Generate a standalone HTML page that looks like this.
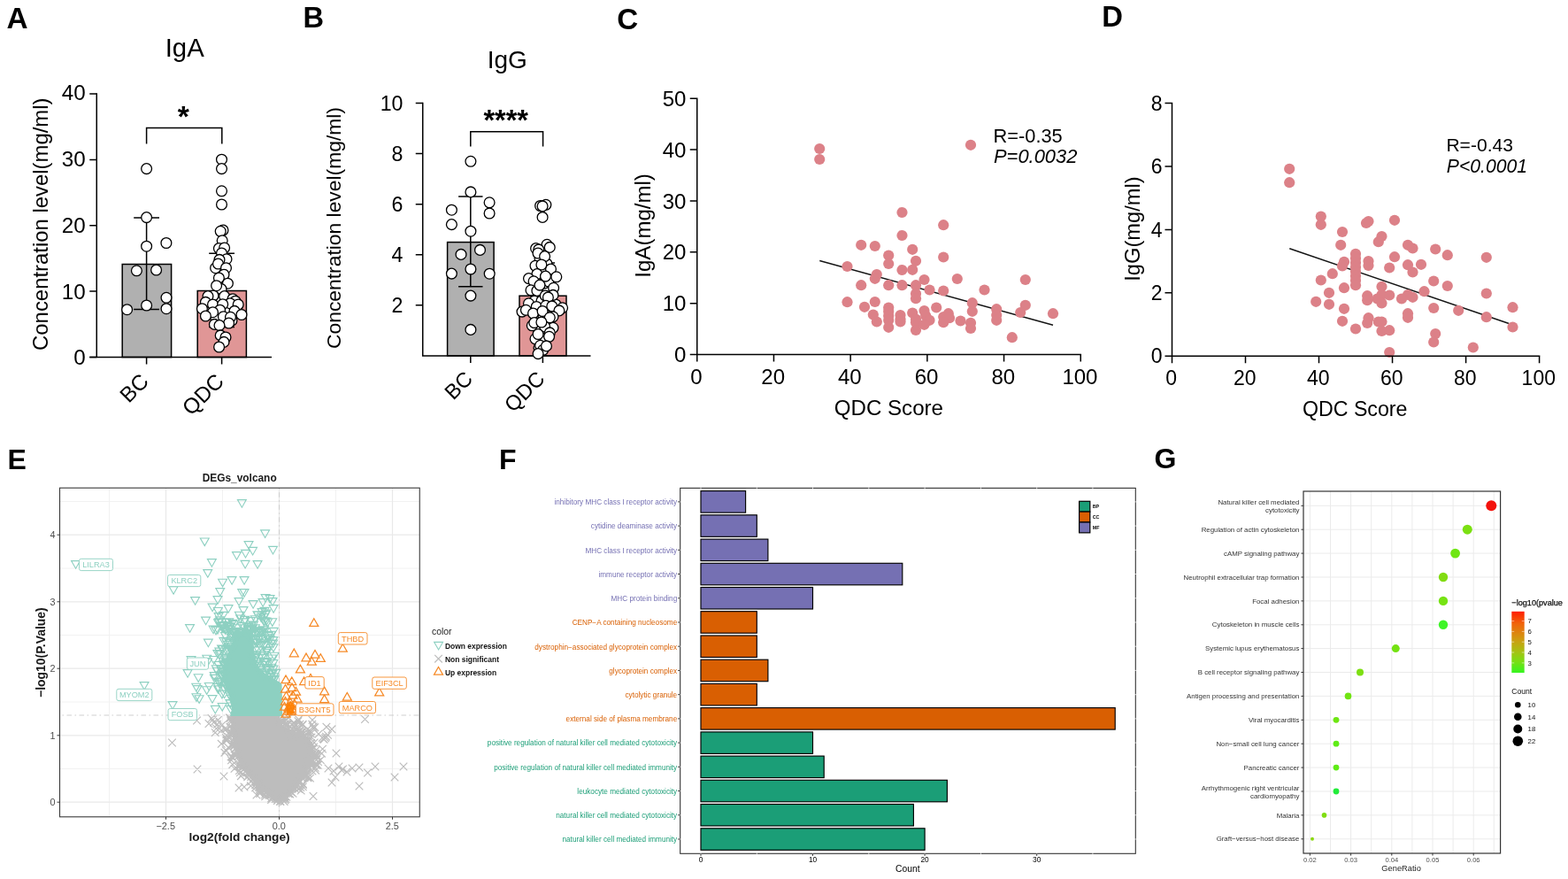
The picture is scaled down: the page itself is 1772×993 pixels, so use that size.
<!DOCTYPE html>
<html lang="en">
<head>
<meta charset="utf-8">
<title>Figure: IgA / IgG levels, QDC score correlation, DEG volcano, GO and KEGG enrichment</title>
<style>
html,body{margin:0;padding:0;background:#fff;}
body{width:1772px;height:993px;overflow:hidden;font-family:"Liberation Sans",Arial,Helvetica,sans-serif;}
svg{display:block;}
svg text{font-family:"Liberation Sans",Arial,Helvetica,sans-serif;}
</style>
</head>
<body>
<svg width="1772" height="993" viewBox="0 0 1772 993">
<rect width="1772" height="993" fill="#fff"/>
<text x="7.5" y="32.1" font-size="33.3" font-weight="bold">A</text>
<text x="342.6" y="30.6" font-size="32.6" font-weight="bold">B</text>
<text x="697.2" y="33" font-size="33.2" font-weight="bold">C</text>
<text x="1245.3" y="30.4" font-size="32.8" font-weight="bold">D</text>
<text x="208.7" y="63.6" font-size="29.3" text-anchor="middle">IgA</text>
<text x="53.6" y="253.2" font-size="23.9" text-anchor="middle" transform="rotate(-90 53.6 253.2)">Concentration level(mg/ml)</text>
<rect x="138.2" y="298.5" width="55.4" height="105.0" fill="#b0b0b0" stroke="#000" stroke-width="1.5"/>
<rect x="223.2" y="328.5" width="55.2" height="75.0" fill="#e09696" stroke="#000" stroke-width="1.5"/>
<path d="M109.25 105.25V403.5M101.25 403.5H307" stroke="#000" stroke-width="1.5" fill="none"/>
<text x="96.65" y="112.9" font-size="24.2" text-anchor="end">40</text>
<text x="96.65" y="187.8" font-size="24.2" text-anchor="end">30</text>
<text x="96.65" y="262.7" font-size="24.2" text-anchor="end">20</text>
<text x="96.65" y="337.5" font-size="24.2" text-anchor="end">10</text>
<text x="96.65" y="412.4" font-size="24.2" text-anchor="end">0</text>
<path d="M101.25 106H109.25M101.25 180.4H109.25M101.25 254.8H109.25M101.25 329.1H109.25M101.25 403.5H109.25M165.6 403.5V411.5M250.6 403.5V411.5" stroke="#000" stroke-width="1.5" fill="none"/>
<path d="M165.6 246V349.6M151.2 246H180.0M151.2 349.6H180.0M250.6 286.25V369.6M236.2 286.25H265.0M236.2 369.6H265.0" stroke="#000" stroke-width="1.5" fill="none"/>
<path d="M165.6 162.5V144.5H250.8V162.5" stroke="#000" stroke-width="1.5" fill="none"/>
<text x="207.2" y="143" font-size="33.6" text-anchor="middle" font-weight="bold">*</text>
<g fill="#fff" stroke="#000" stroke-width="1.3">
<circle cx="165.6" cy="190.6" r="5.9"/>
<circle cx="165.6" cy="245.6" r="5.9"/>
<circle cx="165.6" cy="278.2" r="5.9"/>
<circle cx="187.9" cy="274.5" r="5.9"/>
<circle cx="154.4" cy="305.8" r="5.9"/>
<circle cx="176.6" cy="305" r="5.9"/>
<circle cx="188" cy="336.3" r="5.9"/>
<circle cx="165.6" cy="345" r="5.9"/>
<circle cx="143.6" cy="349.7" r="5.9"/>
<circle cx="188" cy="348.7" r="5.9"/>
<circle cx="246" cy="338" r="5.9"/>
<circle cx="258" cy="338" r="5.9"/>
<circle cx="238" cy="347" r="5.9"/>
<circle cx="256" cy="347" r="5.9"/>
<circle cx="245" cy="356" r="5.9"/>
<circle cx="263" cy="346" r="5.9"/>
<circle cx="236" cy="352" r="5.9"/>
<circle cx="268" cy="350" r="5.9"/>
<circle cx="250" cy="362" r="5.9"/>
<circle cx="244" cy="360" r="5.9"/>
<circle cx="256" cy="353" r="5.9"/>
<circle cx="262" cy="362" r="5.9"/>
<circle cx="254" cy="341" r="5.9"/>
<circle cx="247" cy="330" r="5.9"/>
<circle cx="252" cy="318" r="5.9"/>
<circle cx="249" cy="306" r="5.9"/>
<circle cx="251" cy="297" r="5.9"/>
<circle cx="250.5" cy="180.2" r="5.9"/>
<circle cx="250.5" cy="190.6" r="5.9"/>
<circle cx="250.5" cy="215.8" r="5.9"/>
<circle cx="250.5" cy="231" r="5.9"/>
<circle cx="252" cy="260" r="5.9"/>
<circle cx="249.2" cy="261.3" r="5.9"/>
<circle cx="251.2" cy="271.8" r="5.9"/>
<circle cx="247.4" cy="280.6" r="5.9"/>
<circle cx="253.6" cy="280" r="5.9"/>
<circle cx="250.5" cy="286" r="5.9"/>
<circle cx="256" cy="292.7" r="5.9"/>
<circle cx="248" cy="293.4" r="5.9"/>
<circle cx="243.6" cy="302.7" r="5.9"/>
<circle cx="246.5" cy="298" r="5.9"/>
<circle cx="255.5" cy="302.7" r="5.9"/>
<circle cx="253" cy="310.2" r="5.9"/>
<circle cx="247.4" cy="314" r="5.9"/>
<circle cx="257.4" cy="320.2" r="5.9"/>
<circle cx="250" cy="326.5" r="5.9"/>
<circle cx="244.6" cy="322.7" r="5.9"/>
<circle cx="241" cy="334" r="5.9"/>
<circle cx="253.6" cy="334.6" r="5.9"/>
<circle cx="235" cy="334.6" r="5.9"/>
<circle cx="263" cy="337.7" r="5.9"/>
<circle cx="232.4" cy="341.4" r="5.9"/>
<circle cx="266" cy="340.2" r="5.9"/>
<circle cx="260" cy="342.7" r="5.9"/>
<circle cx="240.5" cy="344" r="5.9"/>
<circle cx="251.7" cy="343.7" r="5.9"/>
<circle cx="269.2" cy="344" r="5.9"/>
<circle cx="228.4" cy="348.7" r="5.9"/>
<circle cx="248.6" cy="350.2" r="5.9"/>
<circle cx="265" cy="351.4" r="5.9"/>
<circle cx="240.5" cy="352.7" r="5.9"/>
<circle cx="232.4" cy="357" r="5.9"/>
<circle cx="252.4" cy="357.7" r="5.9"/>
<circle cx="273" cy="355.5" r="5.9"/>
<circle cx="260.5" cy="358.3" r="5.9"/>
<circle cx="258.6" cy="365" r="5.9"/>
<circle cx="242.4" cy="366.4" r="5.9"/>
<circle cx="248" cy="367.6" r="5.9"/>
<circle cx="249.2" cy="378.9" r="5.9"/>
<circle cx="255" cy="381" r="5.9"/>
<circle cx="253" cy="386.4" r="5.9"/>
<circle cx="247.6" cy="392" r="5.9"/>
</g>
<text x="169.3" y="432.3" font-size="24.3" text-anchor="end" transform="rotate(-45 169.3 432.3)">BC</text>
<text x="254.3" y="432.3" font-size="24.3" text-anchor="end" transform="rotate(-45 254.3 432.3)">QDC</text>
<text x="573.2" y="77" font-size="28" text-anchor="middle">IgG</text>
<text x="385.1" y="257.5" font-size="22.85" text-anchor="middle" transform="rotate(-90 385.1 257.5)">Concentration level(mg/ml)</text>
<rect x="505.6" y="273.6" width="52.5" height="128.3" fill="#b0b0b0" stroke="#000" stroke-width="1.5"/>
<rect x="587" y="334.2" width="53" height="67.7" fill="#e09696" stroke="#000" stroke-width="1.5"/>
<path d="M477.75 115.75V401.9M476.95 401.9H667.5" stroke="#000" stroke-width="1.5" fill="none"/>
<text x="455.45" y="124.7" font-size="23.2" text-anchor="end">10</text>
<text x="455.45" y="181.8" font-size="23.2" text-anchor="end">8</text>
<text x="455.45" y="238.9" font-size="23.2" text-anchor="end">6</text>
<text x="455.45" y="295.9" font-size="23.2" text-anchor="end">4</text>
<text x="455.45" y="353.0" font-size="23.2" text-anchor="end">2</text>
<path d="M469.75 116.5H477.75M469.75 173.6H477.75M469.75 230.7H477.75M469.75 287.7H477.75M469.75 344.8H477.75M531.8 401.9V409.9M613.4 401.9V409.9" stroke="#000" stroke-width="1.5" fill="none"/>
<path d="M531.8 221.9V323.7M518.1 221.9H545.5M518.1 323.7H545.5M613.4 296.9V371.5M599.7 296.9H627.1M599.7 371.5H627.1" stroke="#000" stroke-width="1.5" fill="none"/>
<path d="M531.8 165.6V148.8H613.6V165.6" stroke="#000" stroke-width="1.5" fill="none"/>
<text x="571.7" y="146.5" font-size="32.5" text-anchor="middle" font-weight="bold">****</text>
<g fill="#fff" stroke="#000" stroke-width="1.3">
<circle cx="531.9" cy="182.3" r="5.9"/>
<circle cx="531.9" cy="216.9" r="5.9"/>
<circle cx="553.1" cy="228.8" r="5.9"/>
<circle cx="553.1" cy="241" r="5.9"/>
<circle cx="510.4" cy="237.2" r="5.9"/>
<circle cx="510.4" cy="253.6" r="5.9"/>
<circle cx="531.9" cy="261.2" r="5.9"/>
<circle cx="542.5" cy="282.4" r="5.9"/>
<circle cx="521" cy="287.4" r="5.9"/>
<circle cx="531.9" cy="304" r="5.9"/>
<circle cx="510.4" cy="309.1" r="5.9"/>
<circle cx="553.2" cy="309.2" r="5.9"/>
<circle cx="531.9" cy="334.1" r="5.9"/>
<circle cx="531.9" cy="372.4" r="5.9"/>
<circle cx="604" cy="340" r="5.9"/>
<circle cx="612" cy="340" r="5.9"/>
<circle cx="620" cy="342" r="5.9"/>
<circle cx="628" cy="344" r="5.9"/>
<circle cx="598" cy="348" r="5.9"/>
<circle cx="610" cy="349" r="5.9"/>
<circle cx="618" cy="352" r="5.9"/>
<circle cx="626" cy="352" r="5.9"/>
<circle cx="606" cy="358" r="5.9"/>
<circle cx="614" cy="358" r="5.9"/>
<circle cx="620" cy="364" r="5.9"/>
<circle cx="608" cy="370" r="5.9"/>
<circle cx="616" cy="374" r="5.9"/>
<circle cx="612" cy="382" r="5.9"/>
<circle cx="607" cy="322" r="5.9"/>
<circle cx="615" cy="320" r="5.9"/>
<circle cx="620" cy="318" r="5.9"/>
<circle cx="612" cy="306" r="5.9"/>
<circle cx="618" cy="298" r="5.9"/>
<circle cx="610" cy="292" r="5.9"/>
<circle cx="614" cy="386" r="5.9"/>
<circle cx="609" cy="393" r="5.9"/>
<circle cx="610.6" cy="232.5" r="5.9"/>
<circle cx="616.9" cy="231.3" r="5.9"/>
<circle cx="613.1" cy="232.9" r="5.9"/>
<circle cx="613.1" cy="245.4" r="5.9"/>
<circle cx="605.6" cy="280.6" r="5.9"/>
<circle cx="618.1" cy="276.3" r="5.9"/>
<circle cx="608.75" cy="281.9" r="5.9"/>
<circle cx="621.25" cy="279.4" r="5.9"/>
<circle cx="608" cy="286" r="5.9"/>
<circle cx="615.6" cy="289.6" r="5.9"/>
<circle cx="605" cy="300.3" r="5.9"/>
<circle cx="622.5" cy="304" r="5.9"/>
<circle cx="611.9" cy="299" r="5.9"/>
<circle cx="606.9" cy="309.6" r="5.9"/>
<circle cx="597.5" cy="314.6" r="5.9"/>
<circle cx="603.1" cy="317.8" r="5.9"/>
<circle cx="616.5" cy="312.1" r="5.9"/>
<circle cx="628.8" cy="312.8" r="5.9"/>
<circle cx="625.6" cy="325.3" r="5.9"/>
<circle cx="600" cy="327.8" r="5.9"/>
<circle cx="606.9" cy="328.4" r="5.9"/>
<circle cx="610" cy="322.1" r="5.9"/>
<circle cx="625" cy="333.4" r="5.9"/>
<circle cx="616.3" cy="334" r="5.9"/>
<circle cx="619.4" cy="335.9" r="5.9"/>
<circle cx="597.5" cy="342.8" r="5.9"/>
<circle cx="606.3" cy="346.5" r="5.9"/>
<circle cx="616.9" cy="345.3" r="5.9"/>
<circle cx="623.8" cy="345.9" r="5.9"/>
<circle cx="635.6" cy="347.8" r="5.9"/>
<circle cx="590" cy="352.1" r="5.9"/>
<circle cx="631.9" cy="350.9" r="5.9"/>
<circle cx="594.4" cy="350.3" r="5.9"/>
<circle cx="602.5" cy="354" r="5.9"/>
<circle cx="613.1" cy="351.5" r="5.9"/>
<circle cx="625" cy="357.8" r="5.9"/>
<circle cx="621.3" cy="358.8" r="5.9"/>
<circle cx="601.3" cy="367.8" r="5.9"/>
<circle cx="603.8" cy="364.6" r="5.9"/>
<circle cx="625" cy="370.3" r="5.9"/>
<circle cx="615.6" cy="369" r="5.9"/>
<circle cx="611.9" cy="364" r="5.9"/>
<circle cx="621.3" cy="375.9" r="5.9"/>
<circle cx="605" cy="382.8" r="5.9"/>
<circle cx="620.6" cy="380.3" r="5.9"/>
<circle cx="608.1" cy="377.5" r="5.9"/>
<circle cx="610.6" cy="390.3" r="5.9"/>
<circle cx="613.75" cy="395.3" r="5.9"/>
<circle cx="617.5" cy="390.9" r="5.9"/>
<circle cx="608.1" cy="399.6" r="5.9"/>
</g>
<text x="535.5" y="429.5" font-size="23.7" text-anchor="end" transform="rotate(-45 535.5 429.5)">BC</text>
<text x="617" y="429.5" font-size="23.7" text-anchor="end" transform="rotate(-45 617 429.5)">QDC</text>
<path d="M926.25 294.5L1190 367.25" stroke="#141414" stroke-width="1.5" fill="none"/>
<g fill="#dc8188">
<circle cx="1066.2" cy="254.2" r="6.1"/>
<circle cx="1019.5" cy="266.0" r="6.1"/>
<circle cx="973.2" cy="276.8" r="6.1"/>
<circle cx="988.8" cy="278.0" r="6.1"/>
<circle cx="1031.2" cy="281.8" r="6.1"/>
<circle cx="1004.2" cy="288.5" r="6.1"/>
<circle cx="1066.2" cy="290.5" r="6.1"/>
<circle cx="1035.0" cy="294.8" r="6.1"/>
<circle cx="1004.2" cy="298.0" r="6.1"/>
<circle cx="957.5" cy="301.0" r="6.1"/>
<circle cx="1019.5" cy="305.0" r="6.1"/>
<circle cx="1031.2" cy="304.8" r="6.1"/>
<circle cx="990.8" cy="310.0" r="6.1"/>
<circle cx="988.8" cy="314.8" r="6.1"/>
<circle cx="1044.5" cy="316.0" r="6.1"/>
<circle cx="1081.8" cy="315.0" r="6.1"/>
<circle cx="1158.8" cy="316.0" r="6.1"/>
<circle cx="973.2" cy="322.2" r="6.1"/>
<circle cx="1004.2" cy="322.2" r="6.1"/>
<circle cx="1019.5" cy="322.2" r="6.1"/>
<circle cx="1035.0" cy="322.2" r="6.1"/>
<circle cx="1050.5" cy="327.5" r="6.1"/>
<circle cx="1066.2" cy="328.5" r="6.1"/>
<circle cx="1112.5" cy="327.5" r="6.1"/>
<circle cx="1035.0" cy="331.8" r="6.1"/>
<circle cx="1035.0" cy="337.2" r="6.1"/>
<circle cx="957.5" cy="341.2" r="6.1"/>
<circle cx="988.8" cy="341.0" r="6.1"/>
<circle cx="1098.8" cy="342.2" r="6.1"/>
<circle cx="977.0" cy="346.8" r="6.1"/>
<circle cx="1004.2" cy="347.5" r="6.1"/>
<circle cx="1058.2" cy="347.5" r="6.1"/>
<circle cx="1126.2" cy="349.2" r="6.1"/>
<circle cx="1158.8" cy="344.8" r="6.1"/>
<circle cx="1004.2" cy="351.8" r="6.1"/>
<circle cx="1031.2" cy="353.5" r="6.1"/>
<circle cx="1044.5" cy="351.0" r="6.1"/>
<circle cx="1098.8" cy="351.8" r="6.1"/>
<circle cx="1153.2" cy="353.0" r="6.1"/>
<circle cx="1190.0" cy="354.2" r="6.1"/>
<circle cx="986.8" cy="355.5" r="6.1"/>
<circle cx="1017.5" cy="356.0" r="6.1"/>
<circle cx="1071.8" cy="354.2" r="6.1"/>
<circle cx="1004.2" cy="356.8" r="6.1"/>
<circle cx="1046.2" cy="356.8" r="6.1"/>
<circle cx="1066.2" cy="358.0" r="6.1"/>
<circle cx="1126.2" cy="356.0" r="6.1"/>
<circle cx="1017.5" cy="360.5" r="6.1"/>
<circle cx="1035.0" cy="360.5" r="6.1"/>
<circle cx="1073.0" cy="359.2" r="6.1"/>
<circle cx="1004.2" cy="361.8" r="6.1"/>
<circle cx="1050.5" cy="361.8" r="6.1"/>
<circle cx="990.8" cy="363.5" r="6.1"/>
<circle cx="1017.5" cy="363.5" r="6.1"/>
<circle cx="1035.0" cy="364.2" r="6.1"/>
<circle cx="1066.2" cy="364.2" r="6.1"/>
<circle cx="1085.5" cy="362.5" r="6.1"/>
<circle cx="1097.0" cy="364.8" r="6.1"/>
<circle cx="1126.2" cy="361.8" r="6.1"/>
<circle cx="1044.5" cy="366.8" r="6.1"/>
<circle cx="1004.2" cy="369.8" r="6.1"/>
<circle cx="1097.0" cy="371.0" r="6.1"/>
<circle cx="1035.0" cy="373.0" r="6.1"/>
<circle cx="1143.8" cy="381.2" r="6.1"/>
<circle cx="926.2" cy="168.0" r="6.1"/>
<circle cx="926.2" cy="180.0" r="6.1"/>
<circle cx="1097.0" cy="163.8" r="6.1"/>
<circle cx="1019.5" cy="240.0" r="6.1"/>
</g>
<text x="775.45" y="119.7" font-size="24.05" text-anchor="end">50</text>
<text x="775.45" y="177.6" font-size="24.05" text-anchor="end">40</text>
<text x="775.45" y="235.5" font-size="24.05" text-anchor="end">30</text>
<text x="775.45" y="293.3" font-size="24.05" text-anchor="end">20</text>
<text x="775.45" y="351.2" font-size="24.05" text-anchor="end">10</text>
<text x="775.45" y="409.1" font-size="24.05" text-anchor="end">0</text>
<text x="786.95" y="434.4" font-size="24.05" text-anchor="middle">0</text>
<text x="873.65" y="434.4" font-size="24.05" text-anchor="middle">20</text>
<text x="960.35" y="434.4" font-size="24.05" text-anchor="middle">40</text>
<text x="1047.05" y="434.4" font-size="24.05" text-anchor="middle">60</text>
<text x="1133.75" y="434.4" font-size="24.05" text-anchor="middle">80</text>
<text x="1220.45" y="434.4" font-size="24.05" text-anchor="middle">100</text>
<path d="M787.75 110.45V408.6M779.75 400.6H1222.05M779.75 111.25H787.75M779.75 169.1H787.75M779.75 227H787.75M779.75 284.8H787.75M779.75 342.7H787.75M779.75 400.6H787.75M787.75 400.6V408.6M874.45 400.6V408.6M961.15 400.6V408.6M1047.85 400.6V408.6M1134.55 400.6V408.6M1221.25 400.6V408.6" stroke="#000" stroke-width="1.5" fill="none"/>
<text x="1004.4" y="469.2" font-size="24.1" text-anchor="middle">QDC Score</text>
<text x="735.5" y="254.9" font-size="24.05" text-anchor="middle" transform="rotate(-90 735.5 254.9)">IgA(mg/ml)</text>
<text x="1122.6" y="160.8" font-size="21.8">R=-0.35</text>
<text x="1123.0" y="184.4" font-size="21.9" font-style="italic">P=0.0032</text>
<path d="M1457.25 280.75L1705.25 365.5" stroke="#141414" stroke-width="1.5" fill="none"/>
<g fill="#dc8188">
<circle cx="1457.2" cy="190.8" r="6.1"/>
<circle cx="1457.2" cy="206.2" r="6.1"/>
<circle cx="1492.8" cy="244.5" r="6.1"/>
<circle cx="1492.8" cy="253.8" r="6.1"/>
<circle cx="1544.0" cy="252.0" r="6.1"/>
<circle cx="1546.5" cy="250.0" r="6.1"/>
<circle cx="1576.0" cy="248.8" r="6.1"/>
<circle cx="1517.0" cy="262.0" r="6.1"/>
<circle cx="1561.5" cy="267.0" r="6.1"/>
<circle cx="1557.8" cy="273.2" r="6.1"/>
<circle cx="1515.2" cy="276.8" r="6.1"/>
<circle cx="1591.0" cy="276.8" r="6.1"/>
<circle cx="1596.5" cy="280.5" r="6.1"/>
<circle cx="1622.2" cy="281.5" r="6.1"/>
<circle cx="1635.8" cy="288.2" r="6.1"/>
<circle cx="1679.8" cy="290.8" r="6.1"/>
<circle cx="1532.0" cy="286.8" r="6.1"/>
<circle cx="1576.0" cy="290.2" r="6.1"/>
<circle cx="1532.0" cy="291.8" r="6.1"/>
<circle cx="1519.0" cy="295.8" r="6.1"/>
<circle cx="1546.5" cy="295.0" r="6.1"/>
<circle cx="1532.0" cy="296.8" r="6.1"/>
<circle cx="1517.0" cy="300.5" r="6.1"/>
<circle cx="1546.5" cy="300.0" r="6.1"/>
<circle cx="1591.0" cy="299.2" r="6.1"/>
<circle cx="1606.0" cy="298.8" r="6.1"/>
<circle cx="1532.0" cy="301.8" r="6.1"/>
<circle cx="1570.2" cy="302.5" r="6.1"/>
<circle cx="1532.0" cy="306.8" r="6.1"/>
<circle cx="1596.5" cy="307.5" r="6.1"/>
<circle cx="1505.8" cy="309.2" r="6.1"/>
<circle cx="1532.0" cy="311.8" r="6.1"/>
<circle cx="1492.8" cy="316.5" r="6.1"/>
<circle cx="1532.0" cy="316.8" r="6.1"/>
<circle cx="1620.2" cy="317.5" r="6.1"/>
<circle cx="1532.0" cy="322.2" r="6.1"/>
<circle cx="1519.0" cy="325.2" r="6.1"/>
<circle cx="1561.5" cy="323.8" r="6.1"/>
<circle cx="1635.8" cy="323.0" r="6.1"/>
<circle cx="1502.0" cy="330.8" r="6.1"/>
<circle cx="1609.5" cy="329.2" r="6.1"/>
<circle cx="1679.8" cy="331.5" r="6.1"/>
<circle cx="1545.2" cy="334.2" r="6.1"/>
<circle cx="1561.5" cy="333.0" r="6.1"/>
<circle cx="1570.2" cy="333.5" r="6.1"/>
<circle cx="1591.0" cy="333.0" r="6.1"/>
<circle cx="1584.0" cy="337.5" r="6.1"/>
<circle cx="1596.5" cy="335.8" r="6.1"/>
<circle cx="1556.5" cy="337.5" r="6.1"/>
<circle cx="1487.2" cy="340.8" r="6.1"/>
<circle cx="1545.2" cy="339.2" r="6.1"/>
<circle cx="1561.5" cy="342.5" r="6.1"/>
<circle cx="1502.0" cy="343.8" r="6.1"/>
<circle cx="1519.0" cy="348.8" r="6.1"/>
<circle cx="1620.2" cy="348.0" r="6.1"/>
<circle cx="1648.2" cy="350.8" r="6.1"/>
<circle cx="1709.5" cy="347.2" r="6.1"/>
<circle cx="1591.0" cy="354.2" r="6.1"/>
<circle cx="1591.0" cy="358.8" r="6.1"/>
<circle cx="1679.8" cy="358.2" r="6.1"/>
<circle cx="1546.5" cy="359.2" r="6.1"/>
<circle cx="1517.0" cy="362.8" r="6.1"/>
<circle cx="1557.8" cy="363.5" r="6.1"/>
<circle cx="1561.5" cy="363.5" r="6.1"/>
<circle cx="1545.2" cy="365.0" r="6.1"/>
<circle cx="1709.5" cy="369.5" r="6.1"/>
<circle cx="1532.0" cy="371.5" r="6.1"/>
<circle cx="1561.5" cy="374.0" r="6.1"/>
<circle cx="1570.2" cy="373.2" r="6.1"/>
<circle cx="1622.2" cy="377.0" r="6.1"/>
<circle cx="1620.2" cy="386.5" r="6.1"/>
<circle cx="1664.8" cy="392.5" r="6.1"/>
<circle cx="1570.2" cy="398.0" r="6.1"/>
</g>
<text x="1313.5" y="124.6" font-size="23.0" text-anchor="end">8</text>
<text x="1313.5" y="196.1" font-size="23.0" text-anchor="end">6</text>
<text x="1313.5" y="267.5" font-size="23.0" text-anchor="end">4</text>
<text x="1313.5" y="338.9" font-size="23.0" text-anchor="end">2</text>
<text x="1313.5" y="410.4" font-size="23.0" text-anchor="end">0</text>
<text x="1323.7" y="435.4" font-size="23.0" text-anchor="middle">0</text>
<text x="1406.7" y="435.4" font-size="23.0" text-anchor="middle">20</text>
<text x="1489.7" y="435.4" font-size="23.0" text-anchor="middle">40</text>
<text x="1572.75" y="435.4" font-size="23.0" text-anchor="middle">60</text>
<text x="1655.8" y="435.4" font-size="23.0" text-anchor="middle">80</text>
<text x="1738.8" y="435.4" font-size="23.0" text-anchor="middle">100</text>
<path d="M1324.5 115.7V410.25M1316.5 402.25H1740.4M1316.5 116.5H1324.5M1316.5 188H1324.5M1316.5 259.4H1324.5M1316.5 330.8H1324.5M1316.5 402.25H1324.5M1324.5 402.25V410.25M1407.5 402.25V410.25M1490.5 402.25V410.25M1573.55 402.25V410.25M1656.6 402.25V410.25M1739.6 402.25V410.25" stroke="#000" stroke-width="1.5" fill="none"/>
<text x="1531.2" y="469.9" font-size="23.2" text-anchor="middle">QDC Score</text>
<text x="1287.5" y="258.5" font-size="23.7" text-anchor="middle" transform="rotate(-90 1287.5 258.5)">IgG(mg/ml)</text>
<text x="1634.4" y="170.8" font-size="21.1">R=-0.43</text>
<text x="1634.8" y="194.6" font-size="21.2" font-style="italic">P&lt;0.0001</text>
<text x="8.5" y="530.4" font-size="32" font-weight="bold">E</text>
<text x="270.7" y="544" font-size="11.9" text-anchor="middle" font-weight="bold" fill="#1a1a1a">DEGs_volcano</text>
<path d="M67.5 868.5H474.25M67.5 793H474.25M67.5 717.5H474.25M67.5 642H474.25M67.5 566.5H474.25M123.5 551.2V922.8M251.5 551.2V922.8M379.5 551.2V922.8" stroke="#f1f1f1" stroke-width="0.9" fill="none"/>
<path d="M67.5 906.2H474.25M67.5 830.8H474.25M67.5 755.2H474.25M67.5 679.8H474.25M67.5 604.2H474.25M187.5 551.2V922.8M315.5 551.2V922.8M443.5 551.2V922.8" stroke="#e9e9e9" stroke-width="1.2" fill="none"/>
<path d="M315.5 551.2V922.8M70.5 808H474.25" stroke="#cacaca" stroke-width="0.9" stroke-dasharray="1.6 3.4 5.6 3.4" fill="none"/>
<path d="M261.2 807L261.2 809.6L261.2 812.2L261.2 814.8L261.2 817.3L261.2 819.9L261.3 822.5L261.7 825.1L262 827.7L262.4 830.3L262.7 832.9L263.1 835.4L263.4 838L263.8 840.6L264.2 843.2L264.7 845.8L265.7 848.4L266.8 850.9L267.8 853.5L268.8 856.1L269.8 858.7L270.8 861.3L271.9 863.9L272.9 866.5L273.9 869L276.2 871.6L278.4 874.2L280.6 876.8L282.9 879.4L285.1 882L287.3 884.5L289.6 887.1L291.8 889.7L294.5 892.3L297.7 894.9L300.9 897.5L304.1 900.1L307.2 902.6L310.4 905.2L313.6 907.8L316.8 910.4L314 910.4L316.9 907.8L319.8 905.2L322.7 902.6L325.6 900.1L328.5 897.5L331.4 894.9L334.3 892.3L336.5 889.7L338 887.1L339.5 884.5L341 882L342.5 879.4L344 876.8L345.5 874.2L347 871.6L348.5 869L349 866.5L349.5 863.9L350 861.3L350.6 858.7L351.1 856.1L351.6 853.5L352.1 850.9L352.6 848.4L353.1 845.8L352.8 843.2L352.2 840.6L351.6 838L350.9 835.4L349.9 832.9L342.7 830.3L335.5 827.7L329.3 825.1L324.9 822.5L320.5 819.9L317.2 817.3L317 814.8L316.8 812.2L316.5 809.6L316.3 807z" fill="#bdbdbd"/>
<path d="M351.8 848.9l8.6 8.6m0 -8.6l-8.6 8.6M346.8 854.2l8.6 8.6m0 -8.6l-8.6 8.6M288.1 881.4l8.6 8.6m0 -8.6l-8.6 8.6M317.1 814.4l8.6 8.6m0 -8.6l-8.6 8.6M317.8 899.5l8.6 8.6m0 -8.6l-8.6 8.6M258.9 820.7l8.6 8.6m0 -8.6l-8.6 8.6M258 823.9l8.6 8.6m0 -8.6l-8.6 8.6M333.2 886.2l8.6 8.6m0 -8.6l-8.6 8.6M277 869l8.6 8.6m0 -8.6l-8.6 8.6M316.7 901l8.6 8.6m0 -8.6l-8.6 8.6M258.5 835.8l8.6 8.6m0 -8.6l-8.6 8.6M347.2 843.9l8.6 8.6m0 -8.6l-8.6 8.6M316.2 897.2l8.6 8.6m0 -8.6l-8.6 8.6M349.3 850.6l8.6 8.6m0 -8.6l-8.6 8.6M327.3 812.7l8.6 8.6m0 -8.6l-8.6 8.6M241.2 814l8.6 8.6m0 -8.6l-8.6 8.6M255.6 817l8.6 8.6m0 -8.6l-8.6 8.6M333.8 822.7l8.6 8.6m0 -8.6l-8.6 8.6M336.4 823.9l8.6 8.6m0 -8.6l-8.6 8.6M264.6 845.9l8.6 8.6m0 -8.6l-8.6 8.6M314.8 898.4l8.6 8.6m0 -8.6l-8.6 8.6M347.2 843.4l8.6 8.6m0 -8.6l-8.6 8.6M309.1 900.2l8.6 8.6m0 -8.6l-8.6 8.6M285.7 879.5l8.6 8.6m0 -8.6l-8.6 8.6M266.5 861.4l8.6 8.6m0 -8.6l-8.6 8.6M353.5 849l8.6 8.6m0 -8.6l-8.6 8.6M295.3 888.5l8.6 8.6m0 -8.6l-8.6 8.6M321.7 892.5l8.6 8.6m0 -8.6l-8.6 8.6M295.4 895.5l8.6 8.6m0 -8.6l-8.6 8.6M268.9 863.3l8.6 8.6m0 -8.6l-8.6 8.6M310.7 809.4l8.6 8.6m0 -8.6l-8.6 8.6M330.9 884.4l8.6 8.6m0 -8.6l-8.6 8.6M332 822.5l8.6 8.6m0 -8.6l-8.6 8.6M329.4 887.1l8.6 8.6m0 -8.6l-8.6 8.6M301.5 893.3l8.6 8.6m0 -8.6l-8.6 8.6M256.8 811.5l8.6 8.6m0 -8.6l-8.6 8.6M265.8 860.3l8.6 8.6m0 -8.6l-8.6 8.6M340.1 868.4l8.6 8.6m0 -8.6l-8.6 8.6M242.1 809.1l8.6 8.6m0 -8.6l-8.6 8.6M302.4 897.6l8.6 8.6m0 -8.6l-8.6 8.6M282.2 875.5l8.6 8.6m0 -8.6l-8.6 8.6M352.9 857.9l8.6 8.6m0 -8.6l-8.6 8.6M340.1 872.9l8.6 8.6m0 -8.6l-8.6 8.6M342 871.1l8.6 8.6m0 -8.6l-8.6 8.6M338.1 881.2l8.6 8.6m0 -8.6l-8.6 8.6M347.1 842.2l8.6 8.6m0 -8.6l-8.6 8.6M348.7 866.8l8.6 8.6m0 -8.6l-8.6 8.6M353.2 842.8l8.6 8.6m0 -8.6l-8.6 8.6M292.1 885.8l8.6 8.6m0 -8.6l-8.6 8.6M268.1 863.1l8.6 8.6m0 -8.6l-8.6 8.6M268.1 872.4l8.6 8.6m0 -8.6l-8.6 8.6M260.8 830.1l8.6 8.6m0 -8.6l-8.6 8.6M346.6 821.9l8.6 8.6m0 -8.6l-8.6 8.6M296.5 890.9l8.6 8.6m0 -8.6l-8.6 8.6M359.2 846.9l8.6 8.6m0 -8.6l-8.6 8.6M347.2 842.4l8.6 8.6m0 -8.6l-8.6 8.6M240.2 818.7l8.6 8.6m0 -8.6l-8.6 8.6M336.6 873.6l8.6 8.6m0 -8.6l-8.6 8.6M259.4 832l8.6 8.6m0 -8.6l-8.6 8.6M270.8 865.5l8.6 8.6m0 -8.6l-8.6 8.6M260.7 848.9l8.6 8.6m0 -8.6l-8.6 8.6M289.6 889.1l8.6 8.6m0 -8.6l-8.6 8.6M347.3 835.2l8.6 8.6m0 -8.6l-8.6 8.6M312.1 808.1l8.6 8.6m0 -8.6l-8.6 8.6M249.7 819.2l8.6 8.6m0 -8.6l-8.6 8.6M352.4 865.9l8.6 8.6m0 -8.6l-8.6 8.6M277 871.1l8.6 8.6m0 -8.6l-8.6 8.6M255 806.7l8.6 8.6m0 -8.6l-8.6 8.6M251.8 831.7l8.6 8.6m0 -8.6l-8.6 8.6M342 864.4l8.6 8.6m0 -8.6l-8.6 8.6M321.4 814l8.6 8.6m0 -8.6l-8.6 8.6M350.3 849l8.6 8.6m0 -8.6l-8.6 8.6M354.9 860l8.6 8.6m0 -8.6l-8.6 8.6M349.4 850l8.6 8.6m0 -8.6l-8.6 8.6M343.5 874.6l8.6 8.6m0 -8.6l-8.6 8.6M366.2 826.1l8.6 8.6m0 -8.6l-8.6 8.6M346.9 857l8.6 8.6m0 -8.6l-8.6 8.6M260.2 839l8.6 8.6m0 -8.6l-8.6 8.6M342.9 858.3l8.6 8.6m0 -8.6l-8.6 8.6M287.5 883l8.6 8.6m0 -8.6l-8.6 8.6M347.9 837.7l8.6 8.6m0 -8.6l-8.6 8.6M346.2 874.8l8.6 8.6m0 -8.6l-8.6 8.6M346 852.7l8.6 8.6m0 -8.6l-8.6 8.6M343.9 826.8l8.6 8.6m0 -8.6l-8.6 8.6M347.5 855.6l8.6 8.6m0 -8.6l-8.6 8.6M349.3 842.1l8.6 8.6m0 -8.6l-8.6 8.6M333.2 886.9l8.6 8.6m0 -8.6l-8.6 8.6M355.7 824.9l8.6 8.6m0 -8.6l-8.6 8.6M333.3 808.4l8.6 8.6m0 -8.6l-8.6 8.6M338.2 882.2l8.6 8.6m0 -8.6l-8.6 8.6M314.4 812l8.6 8.6m0 -8.6l-8.6 8.6M316.3 897.1l8.6 8.6m0 -8.6l-8.6 8.6M352.5 847.1l8.6 8.6m0 -8.6l-8.6 8.6M245.9 836l8.6 8.6m0 -8.6l-8.6 8.6M321.4 818.1l8.6 8.6m0 -8.6l-8.6 8.6M253.8 824.2l8.6 8.6m0 -8.6l-8.6 8.6M346.4 839.6l8.6 8.6m0 -8.6l-8.6 8.6M267.7 854.4l8.6 8.6m0 -8.6l-8.6 8.6M267.1 856.3l8.6 8.6m0 -8.6l-8.6 8.6M245.8 821l8.6 8.6m0 -8.6l-8.6 8.6M355.2 856.3l8.6 8.6m0 -8.6l-8.6 8.6M364.2 827.9l8.6 8.6m0 -8.6l-8.6 8.6M258.4 835.9l8.6 8.6m0 -8.6l-8.6 8.6M312.1 901l8.6 8.6m0 -8.6l-8.6 8.6M347.7 828.6l8.6 8.6m0 -8.6l-8.6 8.6M347.7 846l8.6 8.6m0 -8.6l-8.6 8.6M346.5 844.2l8.6 8.6m0 -8.6l-8.6 8.6M323.5 892.7l8.6 8.6m0 -8.6l-8.6 8.6M353.5 854l8.6 8.6m0 -8.6l-8.6 8.6M257.6 823.8l8.6 8.6m0 -8.6l-8.6 8.6M343.9 854.9l8.6 8.6m0 -8.6l-8.6 8.6M238.9 823.3l8.6 8.6m0 -8.6l-8.6 8.6M300.3 894.2l8.6 8.6m0 -8.6l-8.6 8.6M279.4 878.7l8.6 8.6m0 -8.6l-8.6 8.6M345.6 846.8l8.6 8.6m0 -8.6l-8.6 8.6M339.8 872.6l8.6 8.6m0 -8.6l-8.6 8.6M263.8 844.4l8.6 8.6m0 -8.6l-8.6 8.6M257.2 854.6l8.6 8.6m0 -8.6l-8.6 8.6M340.7 873l8.6 8.6m0 -8.6l-8.6 8.6M351.9 863l8.6 8.6m0 -8.6l-8.6 8.6M361.1 830.4l8.6 8.6m0 -8.6l-8.6 8.6M279.1 883.5l8.6 8.6m0 -8.6l-8.6 8.6M341.3 872.1l8.6 8.6m0 -8.6l-8.6 8.6M282.2 874.7l8.6 8.6m0 -8.6l-8.6 8.6M350.3 839.7l8.6 8.6m0 -8.6l-8.6 8.6M316.4 895.9l8.6 8.6m0 -8.6l-8.6 8.6M343.1 868.7l8.6 8.6m0 -8.6l-8.6 8.6M316.8 901.2l8.6 8.6m0 -8.6l-8.6 8.6M302.3 899.3l8.6 8.6m0 -8.6l-8.6 8.6M260.7 830.2l8.6 8.6m0 -8.6l-8.6 8.6M246.3 815.1l8.6 8.6m0 -8.6l-8.6 8.6M358 854.2l8.6 8.6m0 -8.6l-8.6 8.6M341.6 866.6l8.6 8.6m0 -8.6l-8.6 8.6M342.9 862.8l8.6 8.6m0 -8.6l-8.6 8.6M258.1 850.8l8.6 8.6m0 -8.6l-8.6 8.6M311 811.3l8.6 8.6m0 -8.6l-8.6 8.6M343.8 856l8.6 8.6m0 -8.6l-8.6 8.6M266.7 859.2l8.6 8.6m0 -8.6l-8.6 8.6M255.9 807l8.6 8.6m0 -8.6l-8.6 8.6M329.9 820.7l8.6 8.6m0 -8.6l-8.6 8.6M314.6 810.5l8.6 8.6m0 -8.6l-8.6 8.6M289.4 892.2l8.6 8.6m0 -8.6l-8.6 8.6M360 829l8.6 8.6m0 -8.6l-8.6 8.6M353.5 850.4l8.6 8.6m0 -8.6l-8.6 8.6M329 816.7l8.6 8.6m0 -8.6l-8.6 8.6M312.8 810.7l8.6 8.6m0 -8.6l-8.6 8.6M348.8 848l8.6 8.6m0 -8.6l-8.6 8.6M264.3 861.3l8.6 8.6m0 -8.6l-8.6 8.6M312.7 901l8.6 8.6m0 -8.6l-8.6 8.6M349.9 816.6l8.6 8.6m0 -8.6l-8.6 8.6M253.7 840l8.6 8.6m0 -8.6l-8.6 8.6M344.2 862.2l8.6 8.6m0 -8.6l-8.6 8.6M363.4 829.5l8.6 8.6m0 -8.6l-8.6 8.6M256.4 809.5l8.6 8.6m0 -8.6l-8.6 8.6M318.4 815.5l8.6 8.6m0 -8.6l-8.6 8.6M348.5 814l8.6 8.6m0 -8.6l-8.6 8.6M261.5 841.3l8.6 8.6m0 -8.6l-8.6 8.6M289.1 885.8l8.6 8.6m0 -8.6l-8.6 8.6M332.3 883l8.6 8.6m0 -8.6l-8.6 8.6M259.8 846.2l8.6 8.6m0 -8.6l-8.6 8.6M342.4 868.1l8.6 8.6m0 -8.6l-8.6 8.6M301 893.6l8.6 8.6m0 -8.6l-8.6 8.6M318.7 815l8.6 8.6m0 -8.6l-8.6 8.6M345.3 852l8.6 8.6m0 -8.6l-8.6 8.6M286.4 879.8l8.6 8.6m0 -8.6l-8.6 8.6M350.9 834.7l8.6 8.6m0 -8.6l-8.6 8.6M251.6 819.3l8.6 8.6m0 -8.6l-8.6 8.6M364.6 816.9l8.6 8.6m0 -8.6l-8.6 8.6M317.7 895.5l8.6 8.6m0 -8.6l-8.6 8.6M284.5 882.4l8.6 8.6m0 -8.6l-8.6 8.6M295.7 891.1l8.6 8.6m0 -8.6l-8.6 8.6M262.2 840.6l8.6 8.6m0 -8.6l-8.6 8.6M353.6 859.5l8.6 8.6m0 -8.6l-8.6 8.6M258.5 859.4l8.6 8.6m0 -8.6l-8.6 8.6M251.6 832.6l8.6 8.6m0 -8.6l-8.6 8.6M353.1 859.9l8.6 8.6m0 -8.6l-8.6 8.6M315.5 811.8l8.6 8.6m0 -8.6l-8.6 8.6M318.1 813.5l8.6 8.6m0 -8.6l-8.6 8.6M266.1 866.3l8.6 8.6m0 -8.6l-8.6 8.6M251 829.1l8.6 8.6m0 -8.6l-8.6 8.6M285 878.7l8.6 8.6m0 -8.6l-8.6 8.6M318.7 898.2l8.6 8.6m0 -8.6l-8.6 8.6M339.8 874.5l8.6 8.6m0 -8.6l-8.6 8.6M338 884.6l8.6 8.6m0 -8.6l-8.6 8.6M335.5 885.3l8.6 8.6m0 -8.6l-8.6 8.6M349.1 855.7l8.6 8.6m0 -8.6l-8.6 8.6M249.6 845.9l8.6 8.6m0 -8.6l-8.6 8.6M262 841.6l8.6 8.6m0 -8.6l-8.6 8.6M307 898.3l8.6 8.6m0 -8.6l-8.6 8.6M327.7 816.7l8.6 8.6m0 -8.6l-8.6 8.6M237.2 811.7l8.6 8.6m0 -8.6l-8.6 8.6M259.1 809.2l8.6 8.6m0 -8.6l-8.6 8.6M336.8 874.2l8.6 8.6m0 -8.6l-8.6 8.6M260.5 823.4l8.6 8.6m0 -8.6l-8.6 8.6M346.2 858.1l8.6 8.6m0 -8.6l-8.6 8.6M324.6 890.4l8.6 8.6m0 -8.6l-8.6 8.6M345.6 858l8.6 8.6m0 -8.6l-8.6 8.6M332.6 810.4l8.6 8.6m0 -8.6l-8.6 8.6M346.6 856.1l8.6 8.6m0 -8.6l-8.6 8.6M253.8 828.4l8.6 8.6m0 -8.6l-8.6 8.6M332.4 881.8l8.6 8.6m0 -8.6l-8.6 8.6M260 820.7l8.6 8.6m0 -8.6l-8.6 8.6M335.9 888.7l8.6 8.6m0 -8.6l-8.6 8.6M344.5 831.2l8.6 8.6m0 -8.6l-8.6 8.6M330.1 884.1l8.6 8.6m0 -8.6l-8.6 8.6M344.7 831.5l8.6 8.6m0 -8.6l-8.6 8.6M258.9 851.5l8.6 8.6m0 -8.6l-8.6 8.6M289.4 887.6l8.6 8.6m0 -8.6l-8.6 8.6M299.4 893.3l8.6 8.6m0 -8.6l-8.6 8.6M343.7 857.6l8.6 8.6m0 -8.6l-8.6 8.6M260.4 835.4l8.6 8.6m0 -8.6l-8.6 8.6M344.5 850.3l8.6 8.6m0 -8.6l-8.6 8.6M250.9 843.3l8.6 8.6m0 -8.6l-8.6 8.6M275.8 868.2l8.6 8.6m0 -8.6l-8.6 8.6M275.4 873.5l8.6 8.6m0 -8.6l-8.6 8.6M321.9 806.7l8.6 8.6m0 -8.6l-8.6 8.6M271.7 864.5l8.6 8.6m0 -8.6l-8.6 8.6M258.2 837.9l8.6 8.6m0 -8.6l-8.6 8.6M338.6 824.8l8.6 8.6m0 -8.6l-8.6 8.6M319.5 896l8.6 8.6m0 -8.6l-8.6 8.6M288.1 884.7l8.6 8.6m0 -8.6l-8.6 8.6M279.3 873.3l8.6 8.6m0 -8.6l-8.6 8.6M328.1 885.6l8.6 8.6m0 -8.6l-8.6 8.6M258.4 817.6l8.6 8.6m0 -8.6l-8.6 8.6M295.1 893.6l8.6 8.6m0 -8.6l-8.6 8.6M333.5 878.9l8.6 8.6m0 -8.6l-8.6 8.6M234.8 807.2l8.6 8.6m0 -8.6l-8.6 8.6M331.2 881.1l8.6 8.6m0 -8.6l-8.6 8.6M260.7 837.3l8.6 8.6m0 -8.6l-8.6 8.6M360.2 841.8l8.6 8.6m0 -8.6l-8.6 8.6M260.7 864.1l8.6 8.6m0 -8.6l-8.6 8.6M268.3 858.1l8.6 8.6m0 -8.6l-8.6 8.6M344 873.8l8.6 8.6m0 -8.6l-8.6 8.6M284.3 885.5l8.6 8.6m0 -8.6l-8.6 8.6M258.5 824.6l8.6 8.6m0 -8.6l-8.6 8.6M344.1 860.8l8.6 8.6m0 -8.6l-8.6 8.6M265 849.9l8.6 8.6m0 -8.6l-8.6 8.6M326.7 892l8.6 8.6m0 -8.6l-8.6 8.6M361.9 830.9l8.6 8.6m0 -8.6l-8.6 8.6M268.6 863.1l8.6 8.6m0 -8.6l-8.6 8.6M289.8 891.4l8.6 8.6m0 -8.6l-8.6 8.6M335.3 823.4l8.6 8.6m0 -8.6l-8.6 8.6M236.1 808.8l8.6 8.6m0 -8.6l-8.6 8.6M267 868.6l8.6 8.6m0 -8.6l-8.6 8.6M346 842.1l8.6 8.6m0 -8.6l-8.6 8.6M258.3 824.8l8.6 8.6m0 -8.6l-8.6 8.6M333.2 822.3l8.6 8.6m0 -8.6l-8.6 8.6M270.6 859.9l8.6 8.6m0 -8.6l-8.6 8.6M270.1 869.8l8.6 8.6m0 -8.6l-8.6 8.6M256.8 850.6l8.6 8.6m0 -8.6l-8.6 8.6M343.3 822.9l8.6 8.6m0 -8.6l-8.6 8.6M351.5 817.4l8.6 8.6m0 -8.6l-8.6 8.6M346.8 824.5l8.6 8.6m0 -8.6l-8.6 8.6M335.6 825.8l8.6 8.6m0 -8.6l-8.6 8.6M332.4 818.2l8.6 8.6m0 -8.6l-8.6 8.6M319.6 814.1l8.6 8.6m0 -8.6l-8.6 8.6M342.6 825.7l8.6 8.6m0 -8.6l-8.6 8.6M343.3 819.7l8.6 8.6m0 -8.6l-8.6 8.6M337.9 813.8l8.6 8.6m0 -8.6l-8.6 8.6M348.7 809.1l8.6 8.6m0 -8.6l-8.6 8.6M340.3 827l8.6 8.6m0 -8.6l-8.6 8.6M332 825l8.6 8.6m0 -8.6l-8.6 8.6M325.2 823.8l8.6 8.6m0 -8.6l-8.6 8.6M337 822.6l8.6 8.6m0 -8.6l-8.6 8.6M321.1 825.8l8.6 8.6m0 -8.6l-8.6 8.6M321.9 823.5l8.6 8.6m0 -8.6l-8.6 8.6M350 818.5l8.6 8.6m0 -8.6l-8.6 8.6M319.8 814.2l8.6 8.6m0 -8.6l-8.6 8.6M331.2 824l8.6 8.6m0 -8.6l-8.6 8.6M337.6 814.8l8.6 8.6m0 -8.6l-8.6 8.6M318.8 808.6l8.6 8.6m0 -8.6l-8.6 8.6M334.6 813.9l8.6 8.6m0 -8.6l-8.6 8.6M333.8 827.2l8.6 8.6m0 -8.6l-8.6 8.6M327.7 811.8l8.6 8.6m0 -8.6l-8.6 8.6M324.3 825.6l8.6 8.6m0 -8.6l-8.6 8.6M329.7 824.5l8.6 8.6m0 -8.6l-8.6 8.6M323.5 817.1l8.6 8.6m0 -8.6l-8.6 8.6M324.6 827.6l8.6 8.6m0 -8.6l-8.6 8.6M190.2 834.7l8.6 8.6m0 -8.6l-8.6 8.6M218.7 864.7l8.6 8.6m0 -8.6l-8.6 8.6M248.7 872.7l8.6 8.6m0 -8.6l-8.6 8.6M218.2 809.7l8.6 8.6m0 -8.6l-8.6 8.6M231.7 813.2l8.6 8.6m0 -8.6l-8.6 8.6M265.7 885.7l8.6 8.6m0 -8.6l-8.6 8.6M271.7 884.7l8.6 8.6m0 -8.6l-8.6 8.6M285.7 893.7l8.6 8.6m0 -8.6l-8.6 8.6M408.2 808.2l8.6 8.6m0 -8.6l-8.6 8.6M370.7 819.5l8.6 8.6m0 -8.6l-8.6 8.6M375.7 846.7l8.6 8.6m0 -8.6l-8.6 8.6M401.7 862.7l8.6 8.6m0 -8.6l-8.6 8.6M419.7 861.7l8.6 8.6m0 -8.6l-8.6 8.6M451.7 861.7l8.6 8.6m0 -8.6l-8.6 8.6M411.2 868.7l8.6 8.6m0 -8.6l-8.6 8.6M441.7 873.7l8.6 8.6m0 -8.6l-8.6 8.6M401.7 883.7l8.6 8.6m0 -8.6l-8.6 8.6M381.7 865.7l8.6 8.6m0 -8.6l-8.6 8.6M370.7 879.7l8.6 8.6m0 -8.6l-8.6 8.6M349.7 895.2l8.6 8.6m0 -8.6l-8.6 8.6M383.2 864.7l8.6 8.6m0 -8.6l-8.6 8.6M387.7 867.7l8.6 8.6m0 -8.6l-8.6 8.6M374.7 873.7l8.6 8.6m0 -8.6l-8.6 8.6M366.7 863.7l8.6 8.6m0 -8.6l-8.6 8.6M372.7 866.7l8.6 8.6m0 -8.6l-8.6 8.6M378.7 861.7l8.6 8.6m0 -8.6l-8.6 8.6M393.7 863.7l8.6 8.6m0 -8.6l-8.6 8.6" stroke="#bdbdbd" stroke-width="1.2" fill="none"/>
<path d="M264.5 713L264.3 715.4L264 717.8L263.8 720.2L263.5 722.6L262.8 725L261.9 727.4L261 729.8L260 732.2L259.1 734.6L258.2 737L257.3 739.4L256.1 741.8L254.9 744.2L253.7 746.6L252.9 749L252.2 751.4L251.5 753.8L251.2 756.2L251.4 758.6L251.6 761L251.8 763.4L252 765.8L252.3 768.2L252.5 770.6L253.3 773L254.3 775.4L255.4 777.8L256.4 780.2L257.4 782.6L258.4 785L259.2 787.4L259.7 789.8L260.1 792.2L260.6 794.6L261.1 797L261.6 799.4L262.1 801.8L261.4 804.2L260.7 806.6L260 809L319.3 809L319.2 806.6L319.2 804.2L319.1 801.8L319.1 799.4L319 797L319 794.6L318.9 792.2L318.9 789.8L318.8 787.4L318.8 785L318.7 782.6L318.7 780.2L318.6 777.8L318.6 775.4L318.5 773L316 770.6L311.7 768.2L307.3 765.8L303 763.4L299.5 761L297.1 758.6L294.7 756.2L292.3 753.8L290.4 751.4L289.8 749L289.3 746.6L288.7 744.2L288.1 741.8L287.6 739.4L287.4 737L287.2 734.6L287.1 732.2L286.9 729.8L286.8 727.4L286.6 725L286.4 722.6L285.9 720.2L285.5 717.8L285 715.4L284.5 713z" fill="#8dd0c1"/>
<path d="M285.6 748.1h9.9l-4.9 8.6zM301.7 764h9.9l-4.9 8.6zM298.3 714.4h9.9l-4.9 8.6zM304 727.7h9.9l-4.9 8.6zM305.1 763.3h9.9l-4.9 8.6zM297.5 716.3h9.9l-4.9 8.6zM279.8 736.1h9.9l-4.9 8.6zM285.7 721.9h9.9l-4.9 8.6zM289.8 753.1h9.9l-4.9 8.6zM283.4 719.2h9.9l-4.9 8.6zM301.9 750.2h9.9l-4.9 8.6zM296.9 731.5h9.9l-4.9 8.6zM305 764.3h9.9l-4.9 8.6zM285.6 722.3h9.9l-4.9 8.6zM289.5 750.3h9.9l-4.9 8.6zM283.4 748.6h9.9l-4.9 8.6zM293 735.8h9.9l-4.9 8.6zM280 741.6h9.9l-4.9 8.6zM287.5 746h9.9l-4.9 8.6zM301 723.7h9.9l-4.9 8.6zM284.1 713.2h9.9l-4.9 8.6zM293 756h9.9l-4.9 8.6zM293.2 725.5h9.9l-4.9 8.6zM303.9 719.6h9.9l-4.9 8.6zM289.4 709.8h9.9l-4.9 8.6zM295.4 755.7h9.9l-4.9 8.6zM283.4 739.6h9.9l-4.9 8.6zM297.1 743.2h9.9l-4.9 8.6zM296.7 730.7h9.9l-4.9 8.6zM298.9 757.8h9.9l-4.9 8.6zM302.6 740h9.9l-4.9 8.6zM295.9 751.4h9.9l-4.9 8.6zM300.2 718.8h9.9l-4.9 8.6zM294.9 718.2h9.9l-4.9 8.6zM289.9 722.7h9.9l-4.9 8.6zM303.3 757.1h9.9l-4.9 8.6zM294.9 758.3h9.9l-4.9 8.6zM284.5 739h9.9l-4.9 8.6zM293.2 744.8h9.9l-4.9 8.6zM293.9 709.9h9.9l-4.9 8.6zM298 753.4h9.9l-4.9 8.6zM301.8 763.5h9.9l-4.9 8.6zM276.4 717.4h9.9l-4.9 8.6zM290.7 739.4h9.9l-4.9 8.6zM285.2 735.9h9.9l-4.9 8.6zM293.1 758.8h9.9l-4.9 8.6zM294.4 744.1h9.9l-4.9 8.6zM295 758.3h9.9l-4.9 8.6zM285.5 717h9.9l-4.9 8.6zM284.7 710.4h9.9l-4.9 8.6zM294.2 747.4h9.9l-4.9 8.6zM294.5 724.6h9.9l-4.9 8.6zM301.3 713.3h9.9l-4.9 8.6zM284 718.6h9.9l-4.9 8.6zM297.4 717.9h9.9l-4.9 8.6zM304.7 760.8h9.9l-4.9 8.6zM288 711.6h9.9l-4.9 8.6zM283.4 731h9.9l-4.9 8.6zM290.4 710.3h9.9l-4.9 8.6zM306.8 756.4h9.9l-4.9 8.6zM290 716.9h9.9l-4.9 8.6zM288.5 755.3h9.9l-4.9 8.6zM303.7 723h9.9l-4.9 8.6zM288 716.7h9.9l-4.9 8.6zM289.5 726.7h9.9l-4.9 8.6zM275.9 712.5h9.9l-4.9 8.6zM302.2 756.5h9.9l-4.9 8.6zM284.1 722.4h9.9l-4.9 8.6zM285.8 743h9.9l-4.9 8.6zM305.1 737.2h9.9l-4.9 8.6zM287 730.9h9.9l-4.9 8.6zM280.9 746.7h9.9l-4.9 8.6zM296.5 733.4h9.9l-4.9 8.6zM285.8 711.4h9.9l-4.9 8.6zM304 752.1h9.9l-4.9 8.6zM303.9 745.5h9.9l-4.9 8.6zM289.2 737.3h9.9l-4.9 8.6zM300.9 761.6h9.9l-4.9 8.6zM254.5 781.1h9.9l-4.9 8.6zM251 740.3h9.9l-4.9 8.6zM248.5 759.3h9.9l-4.9 8.6zM256.4 726.8h9.9l-4.9 8.6zM245.7 751.6h9.9l-4.9 8.6zM231.3 771.5h9.9l-4.9 8.6zM253.7 726.9h9.9l-4.9 8.6zM249.5 714.5h9.9l-4.9 8.6zM249 741.8h9.9l-4.9 8.6zM260.8 709.4h9.9l-4.9 8.6zM251.5 732.3h9.9l-4.9 8.6zM246.2 794.5h9.9l-4.9 8.6zM251.8 732.9h9.9l-4.9 8.6zM230.4 722.1h9.9l-4.9 8.6zM236.7 741.5h9.9l-4.9 8.6zM228.7 775.7h9.9l-4.9 8.6zM258.7 709.6h9.9l-4.9 8.6zM250.8 743.8h9.9l-4.9 8.6zM254.9 790.6h9.9l-4.9 8.6zM248.6 780.1h9.9l-4.9 8.6zM257.1 712.8h9.9l-4.9 8.6zM257.3 730.1h9.9l-4.9 8.6zM250.9 721.8h9.9l-4.9 8.6zM258.7 710.6h9.9l-4.9 8.6zM242 747.5h9.9l-4.9 8.6zM247.9 720.4h9.9l-4.9 8.6zM242.8 732.1h9.9l-4.9 8.6zM250.8 770.3h9.9l-4.9 8.6zM255.4 726.9h9.9l-4.9 8.6zM248.7 774.7h9.9l-4.9 8.6zM229.6 744h9.9l-4.9 8.6zM254.4 728.9h9.9l-4.9 8.6zM250.7 740.1h9.9l-4.9 8.6zM262.5 711.5h9.9l-4.9 8.6zM242 766.9h9.9l-4.9 8.6zM217 783.7h9.9l-4.9 8.6zM243.3 735.7h9.9l-4.9 8.6zM257.3 794h9.9l-4.9 8.6zM241.4 772.4h9.9l-4.9 8.6zM238.3 797.4h9.9l-4.9 8.6zM246.9 729.7h9.9l-4.9 8.6zM256.2 716.1h9.9l-4.9 8.6zM250.8 744.5h9.9l-4.9 8.6zM247.4 743.7h9.9l-4.9 8.6zM246.4 754.4h9.9l-4.9 8.6zM254.9 722.6h9.9l-4.9 8.6zM247.8 752.3h9.9l-4.9 8.6zM249.5 770.2h9.9l-4.9 8.6zM257.7 716.4h9.9l-4.9 8.6zM248.9 747.3h9.9l-4.9 8.6zM237.4 762.4h9.9l-4.9 8.6zM237.2 759.6h9.9l-4.9 8.6zM257.5 709.8h9.9l-4.9 8.6zM251.7 741.9h9.9l-4.9 8.6zM250.5 745.7h9.9l-4.9 8.6zM240.3 754.2h9.9l-4.9 8.6zM245.4 751.7h9.9l-4.9 8.6zM257 731.5h9.9l-4.9 8.6zM228.8 740.3h9.9l-4.9 8.6zM247.2 760.8h9.9l-4.9 8.6zM250.4 770.4h9.9l-4.9 8.6zM239.3 751.8h9.9l-4.9 8.6zM255.7 797.4h9.9l-4.9 8.6zM219.2 761.8h9.9l-4.9 8.6zM245.9 780.2h9.9l-4.9 8.6zM245.2 766h9.9l-4.9 8.6zM247.3 746.7h9.9l-4.9 8.6zM235 785.6h9.9l-4.9 8.6zM225.4 743.5h9.9l-4.9 8.6zM261.2 711.2h9.9l-4.9 8.6zM246 755.3h9.9l-4.9 8.6zM211.1 741.5h9.9l-4.9 8.6zM258.6 721.7h9.9l-4.9 8.6zM245.6 729.1h9.9l-4.9 8.6zM257.9 729.7h9.9l-4.9 8.6zM244.9 758.8h9.9l-4.9 8.6zM250.3 730.1h9.9l-4.9 8.6zM243.2 768.8h9.9l-4.9 8.6zM242 766.3h9.9l-4.9 8.6zM220.1 785.8h9.9l-4.9 8.6zM249.2 739h9.9l-4.9 8.6zM255.2 791h9.9l-4.9 8.6zM241.5 774.9h9.9l-4.9 8.6zM216.8 772.2h9.9l-4.9 8.6zM256.3 785.1h9.9l-4.9 8.6zM243.6 766.1h9.9l-4.9 8.6zM245.5 760.6h9.9l-4.9 8.6zM240.9 734.5h9.9l-4.9 8.6zM247.3 757.8h9.9l-4.9 8.6zM253.1 731.1h9.9l-4.9 8.6zM252 724.4h9.9l-4.9 8.6zM261 719.5h9.9l-4.9 8.6zM261.3 714.1h9.9l-4.9 8.6zM252.8 773.9h9.9l-4.9 8.6zM267.5 710.9h9.9l-4.9 8.6zM268.4 703.6h9.9l-4.9 8.6zM280.8 712.1h9.9l-4.9 8.6zM254.8 704.7h9.9l-4.9 8.6zM269.3 711.2h9.9l-4.9 8.6zM265.6 710.2h9.9l-4.9 8.6zM261.1 710.2h9.9l-4.9 8.6zM263.5 705.7h9.9l-4.9 8.6zM277.4 711.8h9.9l-4.9 8.6zM279.6 708.5h9.9l-4.9 8.6zM266.5 710.1h9.9l-4.9 8.6zM273 711.6h9.9l-4.9 8.6zM278.7 703.2h9.9l-4.9 8.6zM265.1 709.7h9.9l-4.9 8.6zM239 708.2h9.9l-4.9 8.6zM278.5 697.6h9.9l-4.9 8.6zM247.3 691.4h9.9l-4.9 8.6zM281.6 702.1h9.9l-4.9 8.6zM265.4 691.3h9.9l-4.9 8.6zM241.4 686.5h9.9l-4.9 8.6zM241 707.5h9.9l-4.9 8.6zM257.8 700.4h9.9l-4.9 8.6zM246.4 702.5h9.9l-4.9 8.6zM275.5 707.5h9.9l-4.9 8.6zM271.4 705.8h9.9l-4.9 8.6zM293.3 698.2h9.9l-4.9 8.6zM295.9 698h9.9l-4.9 8.6zM280.7 705.7h9.9l-4.9 8.6zM290.9 691.1h9.9l-4.9 8.6zM286 690.9h9.9l-4.9 8.6zM275.7 707.4h9.9l-4.9 8.6zM250.1 706.3h9.9l-4.9 8.6zM245.5 699.5h9.9l-4.9 8.6zM271.8 696.4h9.9l-4.9 8.6zM246.4 703.8h9.9l-4.9 8.6zM277.1 708h9.9l-4.9 8.6zM248 706.3h9.9l-4.9 8.6zM253.8 698.9h9.9l-4.9 8.6zM271.3 698.9h9.9l-4.9 8.6zM241.6 699.8h9.9l-4.9 8.6zM242.5 698.7h9.9l-4.9 8.6zM243.5 696.9h9.9l-4.9 8.6zM250.7 699.4h9.9l-4.9 8.6zM252 702.9h9.9l-4.9 8.6zM266.7 695h9.9l-4.9 8.6zM293.7 693.5h9.9l-4.9 8.6zM276.1 704.5h9.9l-4.9 8.6zM283.4 705.7h9.9l-4.9 8.6zM302.8 698.7h9.9l-4.9 8.6zM297.7 699h9.9l-4.9 8.6zM295.6 689.1h9.9l-4.9 8.6zM288.1 708.9h9.9l-4.9 8.6zM249.7 707.7h9.9l-4.9 8.6zM246.3 705.7h9.9l-4.9 8.6zM290.1 693.7h9.9l-4.9 8.6zM259.5 701.6h9.9l-4.9 8.6zM252.6 706.9h9.9l-4.9 8.6zM304.3 709.4h9.9l-4.9 8.6zM294 686.4h9.9l-4.9 8.6zM292.7 708h9.9l-4.9 8.6zM293.5 707.9h9.9l-4.9 8.6zM295.2 690.5h9.9l-4.9 8.6zM245 703.5h9.9l-4.9 8.6zM286.7 691.3h9.9l-4.9 8.6zM255.3 703.7h9.9l-4.9 8.6zM277.9 706.2h9.9l-4.9 8.6zM253.7 707.4h9.9l-4.9 8.6zM283.4 695.7h9.9l-4.9 8.6zM294 697.9h9.9l-4.9 8.6zM268.4 564.6h9.9l-4.9 8.6zM294.6 598.9h9.9l-4.9 8.6zM226.3 608h9.9l-4.9 8.6zM276.1 611.6h9.9l-4.9 8.6zM280.6 618.4h9.9l-4.9 8.6zM272.5 621.4h9.9l-4.9 8.6zM262.5 623.6h9.9l-4.9 8.6zM303.5 617.4h9.9l-4.9 8.6zM234.4 631.6h9.9l-4.9 8.6zM272.1 633.4h9.9l-4.9 8.6zM286.1 633.6h9.9l-4.9 8.6zM229.8 643.6h9.9l-4.9 8.6zM257.1 651.6h9.9l-4.9 8.6zM271.1 651.6h9.9l-4.9 8.6zM246.6 654.2h9.9l-4.9 8.6zM191.1 662.6h9.9l-4.9 8.6zM243.8 664.6h9.9l-4.9 8.6zM268.7 665.6h9.9l-4.9 8.6zM271.1 665.6h9.9l-4.9 8.6zM80.6 633.6h9.9l-4.9 8.6zM158.1 770.6h9.9l-4.9 8.6zM190.1 792.6h9.9l-4.9 8.6zM207.1 756.6h9.9l-4.9 8.6zM218.1 774.6h9.9l-4.9 8.6zM215.6 674.6h9.9l-4.9 8.6zM209.6 705.6h9.9l-4.9 8.6zM227.6 697.1h9.9l-4.9 8.6zM235.1 682.1h9.9l-4.9 8.6zM241.1 673.6h9.9l-4.9 8.6zM236.1 707.1h9.9l-4.9 8.6zM295.1 671.6h9.9l-4.9 8.6zM300.1 672.6h9.9l-4.9 8.6zM303.1 675.6h9.9l-4.9 8.6zM292.1 676.6h9.9l-4.9 8.6zM281.1 678.6h9.9l-4.9 8.6zM265.1 675.6h9.9l-4.9 8.6zM253.1 683.6h9.9l-4.9 8.6zM270.1 685.6h9.9l-4.9 8.6zM291.1 687.6h9.9l-4.9 8.6zM304.1 683.6h9.9l-4.9 8.6zM242.1 692.6h9.9l-4.9 8.6z" stroke="#8dd0c1" stroke-width="1.1" fill="none"/>
<path d="M349.8 707.4h10l-5 -8.7zM382.3 736.1h10l-5 -8.7zM327.3 741.8h10l-5 -8.7zM341 746.8h10l-5 -8.7zM351 743.1h10l-5 -8.7zM357.3 747.4h10l-5 -8.7zM347.3 751.1h10l-5 -8.7zM334.4 759.9h10l-5 -8.7zM318 771.7h10l-5 -8.7zM324.8 773.6h10l-5 -8.7zM338.6 773.6h10l-5 -8.7zM346 770.1h10l-5 -8.7zM361.6 784.8h10l-5 -8.7zM361.6 793.6h10l-5 -8.7zM387.3 791.1h10l-5 -8.7zM423.7 785.9h10l-5 -8.7zM317.5 782.1h10l-5 -8.7zM325 780.6h10l-5 -8.7zM329.5 785.1h10l-5 -8.7zM318.5 790.1h10l-5 -8.7zM326 789.1h10l-5 -8.7zM331 793.1h10l-5 -8.7zM317.5 796.1h10l-5 -8.7zM323 797.1h10l-5 -8.7zM328 799.1h10l-5 -8.7zM316.5 802.1h10l-5 -8.7zM321 803.1h10l-5 -8.7zM325 804.1h10l-5 -8.7zM323 801.1h10l-5 -8.7zM320 807.1h10l-5 -8.7zM324 807.6h10l-5 -8.7zM322 805.1h10l-5 -8.7zM318 810.1h10l-5 -8.7zM328 806.1h10l-5 -8.7z" stroke="#f68a27" stroke-width="1.25" fill="none"/>
<path d="M323.5 797l5.5 -5l4 6l-1.5 8l-7 1z" fill="#ff7f00" opacity="0.85"/>
<rect x="89.5" y="631.3" width="38" height="13.3" rx="2.2" fill="#fff" stroke="#8dd0c1" stroke-width="0.9"/>
<text x="108.5" y="641.3" font-size="9.2" text-anchor="middle" fill="#8dd0c1">LILRA3</text>
<rect x="189.5" y="649.5" width="37.3" height="13.1" rx="2.2" fill="#fff" stroke="#8dd0c1" stroke-width="0.9"/>
<text x="208.2" y="659.3" font-size="9.2" text-anchor="middle" fill="#8dd0c1">KLRC2</text>
<rect x="211.3" y="743" width="24.2" height="13.2" rx="2.2" fill="#fff" stroke="#8dd0c1" stroke-width="0.9"/>
<text x="223.4" y="752.9" font-size="9.2" text-anchor="middle" fill="#8dd0c1">JUN</text>
<rect x="131.8" y="778.3" width="40" height="13.3" rx="2.2" fill="#fff" stroke="#8dd0c1" stroke-width="0.9"/>
<text x="151.8" y="788.3" font-size="9.2" text-anchor="middle" fill="#8dd0c1">MYOM2</text>
<rect x="190" y="800.5" width="32.5" height="13.2" rx="2.2" fill="#fff" stroke="#8dd0c1" stroke-width="0.9"/>
<text x="206.2" y="810.4" font-size="9.2" text-anchor="middle" fill="#8dd0c1">FOSB</text>
<rect x="382.3" y="714.6" width="32.7" height="13.4" rx="2.2" fill="#fff" stroke="#f68a27" stroke-width="0.9"/>
<text x="398.6" y="724.7" font-size="9.2" text-anchor="middle" fill="#f68a27">THBD</text>
<rect x="344.8" y="764.6" width="21.4" height="13.4" rx="2.2" fill="#fff" stroke="#f68a27" stroke-width="0.9"/>
<text x="355.5" y="774.7" font-size="9.2" text-anchor="middle" fill="#f68a27">ID1</text>
<rect x="420.8" y="765" width="38.5" height="13.3" rx="2.2" fill="#fff" stroke="#f68a27" stroke-width="0.9"/>
<text x="440.1" y="775" font-size="9.2" text-anchor="middle" fill="#f68a27">EIF3CL</text>
<rect x="334.4" y="794.8" width="42.6" height="13.4" rx="2.2" fill="#fff" stroke="#f68a27" stroke-width="0.9"/>
<text x="355.7" y="804.9" font-size="9.2" text-anchor="middle" fill="#f68a27">B3GNT5</text>
<rect x="383.2" y="792.5" width="41.3" height="13.3" rx="2.2" fill="#fff" stroke="#f68a27" stroke-width="0.9"/>
<text x="403.9" y="802.5" font-size="9.2" text-anchor="middle" fill="#f68a27">MARCO</text>
<rect x="67.5" y="551.2" width="406.75" height="371.6" fill="none" stroke="#3a3a3a" stroke-width="1.1"/>
<text x="62.6" y="910.1" font-size="10.8" text-anchor="end" fill="#4d4d4d">0</text>
<text x="62.6" y="834.6" font-size="10.8" text-anchor="end" fill="#4d4d4d">1</text>
<text x="62.6" y="759.1" font-size="10.8" text-anchor="end" fill="#4d4d4d">2</text>
<text x="62.6" y="683.6" font-size="10.8" text-anchor="end" fill="#4d4d4d">3</text>
<text x="62.6" y="608.1" font-size="10.8" text-anchor="end" fill="#4d4d4d">4</text>
<text x="187.2" y="937" font-size="10.9" text-anchor="middle" fill="#4d4d4d">−2.5</text>
<text x="315.2" y="937" font-size="10.9" text-anchor="middle" fill="#4d4d4d">0.0</text>
<text x="443.2" y="937" font-size="10.9" text-anchor="middle" fill="#4d4d4d">2.5</text>
<path d="M64.5 906.2h3M64.5 830.8h3M64.5 755.2h3M64.5 679.8h3M64.5 604.2h3M187.5 922.8v3M315.5 922.8v3M443.5 922.8v3" stroke="#3a3a3a" stroke-width="1" fill="none"/>
<text x="270.6" y="950.4" font-size="13.7" text-anchor="middle" font-weight="bold" fill="#1a1a1a">log2(fold change)</text>
<text x="51.2" y="737.1" font-size="13.95" text-anchor="middle" font-weight="bold" fill="#1a1a1a" transform="rotate(-90 51.2 737.1)">−log10(P.Value)</text>
<text x="488" y="716.8" font-size="10.4" fill="#1a1a1a">color</text>
<path d="M490.6 725.4h9.9l-4.9 8.6z" stroke="#8dd0c1" stroke-width="1.1" fill="none"/>
<path d="M491.2 739.9l8.6 8.6m0 -8.6l-8.6 8.6" stroke="#bdbdbd" stroke-width="1.2" fill="none"/>
<path d="M490.5 762.1h10l-5 -8.7z" stroke="#f68a27" stroke-width="1.25" fill="none"/>
<text x="503" y="732.5" font-size="8.45" font-weight="bold" fill="#111">Down expression</text>
<text x="503" y="747.9" font-size="8.45" font-weight="bold" fill="#111">Non significant</text>
<text x="503" y="762.8" font-size="8.45" font-weight="bold" fill="#111">Up expression</text>
<text x="564" y="530.4" font-size="32" font-weight="bold">F</text>
<rect x="768.7" y="551.4" width="514.6" height="412.9" fill="#fff" stroke="#333" stroke-width="1.1"/>
<path d="M792 550.4V965.3M855.3 550.4V965.3M918.5 550.4V965.3M981.8 550.4V965.3M1045.1 550.4V965.3M1108.4 550.4V965.3M1171.7 550.4V965.3M1234.9 550.4V965.3M767.7 566.9H1284.3M767.7 594.1H1284.3M767.7 621.3H1284.3M767.7 648.5H1284.3M767.7 675.8H1284.3M767.7 703H1284.3M767.7 730.2H1284.3M767.7 757.4H1284.3M767.7 784.7H1284.3M767.7 811.9H1284.3M767.7 839.1H1284.3M767.7 866.3H1284.3M767.7 893.6H1284.3M767.7 920.8H1284.3M767.7 948H1284.3" stroke="#fff" stroke-width="0.7" fill="none"/>
<rect x="792.0" y="554.6" width="50.6" height="24.5" fill="#7570b3" stroke="#000" stroke-width="1.15"/>
<text x="765.2" y="570.1" font-size="8.2" text-anchor="end" fill="#7570b3">inhibitory MHC class I receptor activity</text>
<rect x="792.0" y="581.8" width="63.3" height="24.5" fill="#7570b3" stroke="#000" stroke-width="1.15"/>
<text x="765.2" y="597.4" font-size="8.2" text-anchor="end" fill="#7570b3">cytidine deaminase activity</text>
<rect x="792.0" y="609.1" width="75.9" height="24.5" fill="#7570b3" stroke="#000" stroke-width="1.15"/>
<text x="765.2" y="624.6" font-size="8.2" text-anchor="end" fill="#7570b3">MHC class I receptor activity</text>
<rect x="792.0" y="636.3" width="227.8" height="24.5" fill="#7570b3" stroke="#000" stroke-width="1.15"/>
<text x="765.2" y="651.8" font-size="8.2" text-anchor="end" fill="#7570b3">immune receptor activity</text>
<rect x="792.0" y="663.5" width="126.5" height="24.5" fill="#7570b3" stroke="#000" stroke-width="1.15"/>
<text x="765.2" y="679" font-size="8.2" text-anchor="end" fill="#7570b3">MHC protein binding</text>
<rect x="792.0" y="690.7" width="63.3" height="24.5" fill="#d95f02" stroke="#000" stroke-width="1.15"/>
<text x="765.2" y="706.3" font-size="8.2" text-anchor="end" fill="#d95f02">CENP−A containing nucleosome</text>
<rect x="792.0" y="718" width="63.3" height="24.5" fill="#d95f02" stroke="#000" stroke-width="1.15"/>
<text x="765.2" y="733.5" font-size="8.2" text-anchor="end" fill="#d95f02">dystrophin−associated glycoprotein complex</text>
<rect x="792.0" y="745.2" width="75.9" height="24.5" fill="#d95f02" stroke="#000" stroke-width="1.15"/>
<text x="765.2" y="760.7" font-size="8.2" text-anchor="end" fill="#d95f02">glycoprotein complex</text>
<rect x="792.0" y="772.4" width="63.3" height="24.5" fill="#d95f02" stroke="#000" stroke-width="1.15"/>
<text x="765.2" y="788" font-size="8.2" text-anchor="end" fill="#d95f02">cytolytic granule</text>
<rect x="792.0" y="799.6" width="468.2" height="24.5" fill="#d95f02" stroke="#000" stroke-width="1.15"/>
<text x="765.2" y="815.2" font-size="8.2" text-anchor="end" fill="#d95f02">external side of plasma membrane</text>
<rect x="792.0" y="826.9" width="126.5" height="24.5" fill="#1b9e77" stroke="#000" stroke-width="1.15"/>
<text x="765.2" y="842.4" font-size="8.2" text-anchor="end" fill="#1b9e77">positive regulation of natural killer cell mediated cytotoxicity</text>
<rect x="792.0" y="854.1" width="139.2" height="24.5" fill="#1b9e77" stroke="#000" stroke-width="1.15"/>
<text x="765.2" y="869.6" font-size="8.2" text-anchor="end" fill="#1b9e77">positive regulation of natural killer cell mediated immunity</text>
<rect x="792.0" y="881.3" width="278.4" height="24.5" fill="#1b9e77" stroke="#000" stroke-width="1.15"/>
<text x="765.2" y="896.9" font-size="8.2" text-anchor="end" fill="#1b9e77">leukocyte mediated cytotoxicity</text>
<rect x="792.0" y="908.5" width="240.4" height="24.5" fill="#1b9e77" stroke="#000" stroke-width="1.15"/>
<text x="765.2" y="924.1" font-size="8.2" text-anchor="end" fill="#1b9e77">natural killer cell mediated cytotoxicity</text>
<rect x="792.0" y="935.8" width="253.1" height="24.5" fill="#1b9e77" stroke="#000" stroke-width="1.15"/>
<text x="765.2" y="951.3" font-size="8.2" text-anchor="end" fill="#1b9e77">natural killer cell mediated immunity</text>
<text x="792" y="973.8" font-size="8.3" text-anchor="middle">0</text>
<text x="918.5" y="973.8" font-size="8.3" text-anchor="middle">10</text>
<text x="1045.1" y="973.8" font-size="8.3" text-anchor="middle">20</text>
<text x="1171.7" y="973.8" font-size="8.3" text-anchor="middle">30</text>
<path d="M766.1 566.9h2.6M766.1 594.1h2.6M766.1 621.3h2.6M766.1 648.5h2.6M766.1 675.8h2.6M766.1 703h2.6M766.1 730.2h2.6M766.1 757.4h2.6M766.1 784.7h2.6M766.1 811.9h2.6M766.1 839.1h2.6M766.1 866.3h2.6M766.1 893.6h2.6M766.1 920.8h2.6M766.1 948h2.6M792 964.3v2.6M918.5 964.3v2.6M1045.1 964.3v2.6M1171.7 964.3v2.6" stroke="#333" stroke-width="1" fill="none"/>
<text x="1025.8" y="985" font-size="10.3" text-anchor="middle">Count</text>
<rect x="1219.6" y="566.3" width="12.2" height="11.85" fill="#1b9e77" stroke="#000" stroke-width="1.2"/>
<text x="1234.8" y="574.4" font-size="5.3" font-weight="bold">BP</text>
<rect x="1219.6" y="578.1" width="12.2" height="11.85" fill="#d95f02" stroke="#000" stroke-width="1.2"/>
<text x="1234.8" y="586.2" font-size="5.3" font-weight="bold">CC</text>
<rect x="1219.6" y="590" width="12.2" height="11.85" fill="#7570b3" stroke="#000" stroke-width="1.2"/>
<text x="1234.8" y="598.1" font-size="5.3" font-weight="bold">MF</text>
<text x="1304.5" y="528.6" font-size="32" font-weight="bold">G</text>
<rect x="1473.0" y="555.0" width="222.6" height="409" fill="#fff"/>
<path d="M1480.4 555.0V964.0M1503.5 555.0V964.0M1526.6 555.0V964.0M1549.7 555.0V964.0M1572.8 555.0V964.0M1595.9 555.0V964.0M1619 555.0V964.0M1642.1 555.0V964.0M1665.2 555.0V964.0M1688.3 555.0V964.0M1473.0 571.3H1695.6M1473.0 598.2H1695.6M1473.0 625.1H1695.6M1473.0 652H1695.6M1473.0 678.9H1695.6M1473.0 705.8H1695.6M1473.0 732.6H1695.6M1473.0 759.5H1695.6M1473.0 786.4H1695.6M1473.0 813.3H1695.6M1473.0 840.2H1695.6M1473.0 867.1H1695.6M1473.0 894H1695.6M1473.0 920.9H1695.6M1473.0 947.8H1695.6" stroke="#ebebeb" stroke-width="1" fill="none"/>
<rect x="1473.0" y="555.0" width="222.6" height="409" fill="none" stroke="#333" stroke-width="1.2"/>
<circle cx="1685.3" cy="571.3" r="6.0" fill="#f3120c"/>
<text x="1468.4" y="569.9" font-size="7.85" text-anchor="end" fill="#333">Natural killer cell mediated</text>
<text x="1468.4" y="579.1" font-size="7.85" text-anchor="end" fill="#333">cytotoxicity</text>
<circle cx="1658.3" cy="598.2" r="5.5" fill="#7be012"/>
<text x="1468.4" y="600.8" font-size="7.85" text-anchor="end" fill="#333">Regulation of actin cytoskeleton</text>
<circle cx="1644.6" cy="625.1" r="5.4" fill="#6fe612"/>
<text x="1468.4" y="627.7" font-size="7.85" text-anchor="end" fill="#333">cAMP signaling pathway</text>
<circle cx="1631.0" cy="652" r="5.2" fill="#82dc12"/>
<text x="1468.4" y="654.6" font-size="7.85" text-anchor="end" fill="#333">Neutrophil extracellular trap formation</text>
<circle cx="1631.0" cy="678.9" r="5.2" fill="#76e312"/>
<text x="1468.4" y="681.5" font-size="7.85" text-anchor="end" fill="#333">Focal adhesion</text>
<circle cx="1631.0" cy="705.8" r="5.2" fill="#3ff528"/>
<text x="1468.4" y="708.4" font-size="7.85" text-anchor="end" fill="#333">Cytoskeleton in muscle cells</text>
<circle cx="1577.3" cy="732.6" r="4.5" fill="#74e212"/>
<text x="1468.4" y="735.2" font-size="7.85" text-anchor="end" fill="#333">Systemic lupus erythematosus</text>
<circle cx="1537.0" cy="759.5" r="4.0" fill="#7ddf12"/>
<text x="1468.4" y="762.1" font-size="7.85" text-anchor="end" fill="#333">B cell receptor signaling pathway</text>
<circle cx="1523.5" cy="786.4" r="3.8" fill="#70e412"/>
<text x="1468.4" y="789" font-size="7.85" text-anchor="end" fill="#333">Antigen processing and presentation</text>
<circle cx="1510.0" cy="813.3" r="3.4" fill="#6ee612"/>
<text x="1468.4" y="815.9" font-size="7.85" text-anchor="end" fill="#333">Viral myocarditis</text>
<circle cx="1510.0" cy="840.2" r="3.4" fill="#5fec16"/>
<text x="1468.4" y="842.8" font-size="7.85" text-anchor="end" fill="#333">Non−small cell lung cancer</text>
<circle cx="1510.0" cy="867.1" r="3.4" fill="#5fec16"/>
<text x="1468.4" y="869.7" font-size="7.85" text-anchor="end" fill="#333">Pancreatic cancer</text>
<circle cx="1510.0" cy="894" r="3.4" fill="#22ec3a"/>
<text x="1468.4" y="892.6" font-size="7.85" text-anchor="end" fill="#333">Arrhythmogenic right ventricular</text>
<text x="1468.4" y="901.8" font-size="7.85" text-anchor="end" fill="#333">cardiomyopathy</text>
<circle cx="1496.5" cy="920.9" r="2.8" fill="#80dd12"/>
<text x="1468.4" y="923.5" font-size="7.85" text-anchor="end" fill="#333">Malaria</text>
<circle cx="1483.0" cy="947.8" r="2.0" fill="#8ad810"/>
<text x="1468.4" y="950.4" font-size="7.85" text-anchor="end" fill="#333">Graft−versus−host disease</text>
<text x="1480.4" y="973.8" font-size="7.6" text-anchor="middle" fill="#4d4d4d">0.02</text>
<text x="1526.6" y="973.8" font-size="7.6" text-anchor="middle" fill="#4d4d4d">0.03</text>
<text x="1572.8" y="973.8" font-size="7.6" text-anchor="middle" fill="#4d4d4d">0.04</text>
<text x="1619" y="973.8" font-size="7.6" text-anchor="middle" fill="#4d4d4d">0.05</text>
<text x="1665.2" y="973.8" font-size="7.6" text-anchor="middle" fill="#4d4d4d">0.06</text>
<path d="M1470.4 571.3h2.6M1470.4 598.2h2.6M1470.4 625.1h2.6M1470.4 652h2.6M1470.4 678.9h2.6M1470.4 705.8h2.6M1470.4 732.6h2.6M1470.4 759.5h2.6M1470.4 786.4h2.6M1470.4 813.3h2.6M1470.4 840.2h2.6M1470.4 867.1h2.6M1470.4 894h2.6M1470.4 920.9h2.6M1470.4 947.8h2.6M1480.4 964.0v2.6M1526.6 964.0v2.6M1572.8 964.0v2.6M1619 964.0v2.6M1665.2 964.0v2.6" stroke="#333" stroke-width="1" fill="none"/>
<text x="1583.6" y="983.8" font-size="9.3" text-anchor="middle" fill="#222">GeneRatio</text>
<text x="1708.3" y="684" font-size="9.15" fill="#111" stroke="#111" stroke-width="0.25">−log10(pvalue</text>
<defs><linearGradient id="cb" x1="0" y1="0" x2="0" y2="1"><stop offset="0" stop-color="#ff1e00"/><stop offset="0.2" stop-color="#f0640a"/><stop offset="0.45" stop-color="#d09a10"/><stop offset="0.65" stop-color="#a8c012"/><stop offset="0.82" stop-color="#7ade14"/><stop offset="1" stop-color="#35f520"/></linearGradient></defs>
<rect x="1708.3" y="690.8" width="14.4" height="69.2" fill="url(#cb)"/>
<text x="1726.6" y="704.4" font-size="7.8" fill="#111">7</text>
<text x="1726.6" y="716.2" font-size="7.8" fill="#111">6</text>
<text x="1726.6" y="728" font-size="7.8" fill="#111">5</text>
<text x="1726.6" y="739.8" font-size="7.8" fill="#111">4</text>
<text x="1726.6" y="751.7" font-size="7.8" fill="#111">3</text>
<path d="M1708.3 701.6h2.9M1719.8 701.6h2.9M1708.3 713.4h2.9M1719.8 713.4h2.9M1708.3 725.2h2.9M1719.8 725.2h2.9M1708.3 737h2.9M1719.8 737h2.9M1708.3 748.9h2.9M1719.8 748.9h2.9" stroke="#fff" stroke-width="0.6" fill="none" opacity="0.85"/>
<text x="1708.3" y="783.9" font-size="8.6" fill="#111">Count</text>
<circle cx="1715.3" cy="796.3" r="3.3" fill="#000"/>
<text x="1726.6" y="799.1" font-size="7.8" fill="#111">10</text>
<circle cx="1715.3" cy="809.8" r="4.3" fill="#000"/>
<text x="1726.6" y="812.6" font-size="7.8" fill="#111">14</text>
<circle cx="1715.3" cy="823.5" r="5.0" fill="#000"/>
<text x="1726.6" y="826.3" font-size="7.8" fill="#111">18</text>
<circle cx="1715.3" cy="837.2" r="5.8" fill="#000"/>
<text x="1726.6" y="840" font-size="7.8" fill="#111">22</text>
</svg>
</body>
</html>
